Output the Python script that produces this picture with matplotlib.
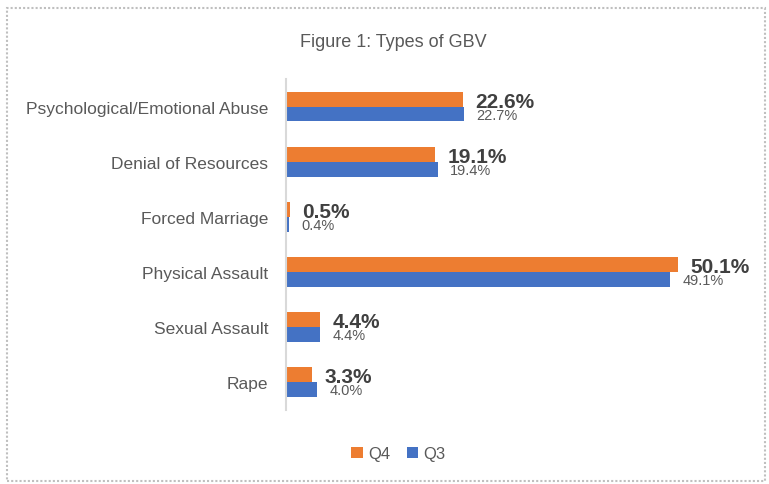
import numpy as np
import matplotlib.pyplot as plt
from matplotlib.patches import Rectangle

plt.rcParams['font.family'] = ['Liberation Sans', 'DejaVu Sans']

# Data
categories = ['Psychological/Emotional Abuse', 'Denial of Resources', 'Forced Marriage',
              'Physical Assault', 'Sexual Assault', 'Rape']
q4 = [22.6, 19.1, 0.5, 50.1, 4.4, 3.3]
q3 = [22.7, 19.4, 0.4, 49.1, 4.4, 4.0]

orange = '#ED7D31'
blue = '#4472C4'

fig = plt.figure(figsize=(7.69, 4.85), dpi=100)
ax = fig.add_axes([0.372, 0.153, 0.61, 0.682])

y = np.arange(len(categories))[::-1]
h = 0.27
ax.barh(y + h / 2, q4, height=h, color=orange, label='Q4')
ax.barh(y - h / 2, q3, height=h, color=blue, label='Q3')

for yi, v in zip(y, q4):
    ax.annotate(f'{v:.1f}%', (v, yi + h / 2), xytext=(9, -1.5), textcoords='offset points',
                ha='left', va='center', fontsize=15, fontweight='bold', color='#404040')
for yi, v in zip(y, q3):
    ax.annotate(f'{v:.1f}%', (v, yi - h / 2), xytext=(9, -0.5), textcoords='offset points',
                ha='left', va='center', fontsize=10.5, color='#595959')

ax.set_xlim(0, 60)
ax.set_ylim(-0.5, len(categories) - 0.5)
ax.set_yticks(y)
ax.set_yticklabels(categories, fontsize=12.5, color='#595959')
ax.tick_params(axis='y', length=0, pad=13)
ax.set_xticks([])
for s in ['top', 'right', 'bottom']:
    ax.spines[s].set_visible(False)
ax.spines['left'].set_color('#D9D9D9')
ax.spines['left'].set_linewidth(1.5)

fig.text(0.511, 0.913, 'Figure 1: Types of GBV', ha='center', va='center',
         fontsize=13, color='#595959')

handles, labels = ax.get_legend_handles_labels()
fig.legend(handles, labels, loc='center', bbox_to_anchor=(0.518, 0.062), ncol=2,
           frameon=False, fontsize=12, labelcolor='#595959', handlelength=0.7,
           handleheight=0.7, handletextpad=0.3, columnspacing=1.0)

fig.patches.append(Rectangle((0.009, 0.006), 0.986, 0.976, transform=fig.transFigure,
                             fill=False, edgecolor='#BFBFBF', linestyle=(0, (1, 1)),
                             linewidth=1.5))

fig.savefig('out.png', dpi=100)
